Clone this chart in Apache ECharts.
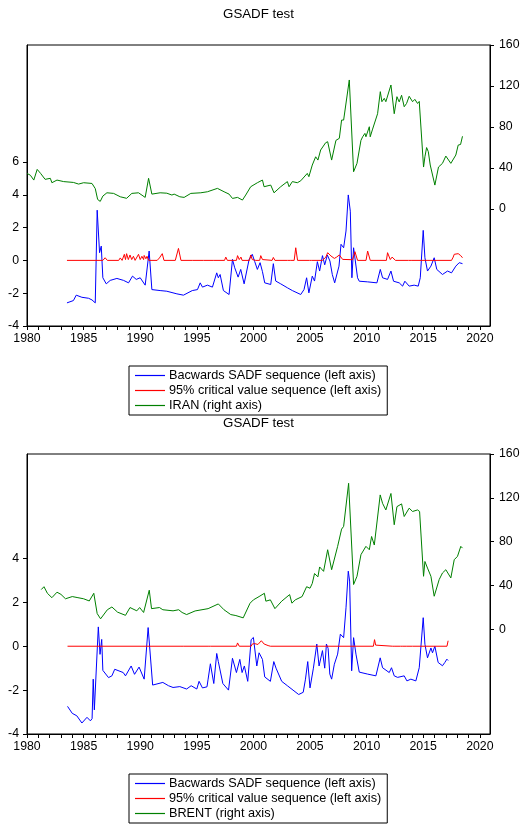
<!DOCTYPE html>
<html>
<head>
<meta charset="utf-8">
<script src="https://cdn.jsdelivr.net/npm/echarts@6/dist/echarts.min.js"></script>
<style>
html,body{margin:0;padding:0;background:#fff;}
#chart{width:526px;height:824px;}
</style>
</head>
<body>
<div id="chart"></div>
<script>
// ---------- DATA ----------
const chartTitle = 'GSADF test';
const seriesNames = ['Bacwards SADF sequence (left axis)', '95% critical value sequence (left axis)'];
const priceName1 = 'IRAN (right axis)';
const priceName2 = 'BRENT (right axis)';

const yearTicks = [1980,1985,1990,1995,2000,2005,2010,2015,2020];
const leftTicks1 = [-4,-2,0,2,4,6];
const leftTicks2 = [-4,-2,0,2,4];
const rightTicks = [0,40,80,120,160];

// Chart 1: IRAN price (right axis)
const iranT = [1980.0,1980.3,1980.6,1980.9,1981.2,1981.6,1982.06,1982.2,1982.65,1983.24,1984.1,1984.56,1985.0,1985.74,1986.03,1986.24,1986.47,1986.7,1987.06,1987.65,1988.24,1988.8,1989.26,1989.85,1990.44,1990.74,1991.03,1991.76,1992.35,1992.8,1993.0,1993.5,1993.88,1994.47,1995.35,1995.94,1996.82,1997.41,1997.85,1998.15,1998.6,1999.03,1999.32,1999.76,2000.35,2000.8,2000.94,2001.53,2001.82,2002.41,2003.0,2003.15,2003.44,2003.88,2004.18,2004.76,2004.9,2005.2,2005.5,2005.7,2005.94,2006.38,2006.56,2006.91,2007.29,2007.59,2007.79,2007.97,2008.47,2008.85,2009.15,2009.5,2009.65,2009.85,2009.94,2010.24,2010.32,2010.53,2010.97,2011.21,2011.35,2011.56,2011.7,2012.15,2012.44,2012.68,2012.88,2013.09,2013.32,2013.53,2013.76,2014.06,2014.26,2014.5,2014.65,2015.03,2015.15,2015.3,2015.45,2015.62,2016.03,2016.35,2016.7,2017.0,2017.44,2017.88,2018.09,2018.3,2018.47];
const iranV = [34.8,33,28.3,38.7,34.8,29,30,25.7,28.3,26.8,26,24.4,25.7,25,20,9.4,7.5,12.7,15.9,15.3,12,10.5,15.3,15.9,11.4,30,14.6,15.9,15.5,13.7,14.6,12,11.4,15.3,15.9,16.9,20.2,16.9,14.6,10.4,11.4,8.8,13.7,21.8,25.7,28.3,21.8,23.4,15.9,21.8,26.8,21.8,26.8,25.7,27.6,34.8,31.6,42.9,51,47.8,57.6,64.7,65.7,47.8,67,69,86.8,86.8,125.9,36.4,44.6,67,70.5,73.8,70.5,80.3,70.5,78,93,114.5,104.7,108,104.7,121,93,109.6,104.5,111,99.8,103,110,104.7,107,103,105,41,51,60,56,43,23.4,41,44.6,51.7,44.6,52.7,62.4,63,71];

// Chart 1: backwards SADF (left axis)
const sadf1T = [1983.53,1984.1,1984.35,1984.85,1985.44,1985.74,1986.03,1986.2,1986.32,1986.41,1986.56,1986.7,1987.0,1987.35,1987.94,1988.53,1988.97,1989.32,1989.65,1990.0,1990.44,1990.79,1991.03,1991.76,1992.35,1993.24,1993.82,1994.6,1995.06,1995.3,1995.5,1995.94,1996.38,1996.76,1996.9,1997.06,1997.35,1997.85,1998.15,1998.35,1998.65,1998.88,1999.18,1999.62,1999.9,2000.12,2000.35,2000.59,2000.8,2001.0,2001.53,2001.76,2001.97,2002.41,2003.0,2003.44,2004.18,2004.47,2004.7,2004.9,2005.2,2005.4,2005.65,2005.85,2006.1,2006.3,2006.53,2006.76,2006.97,2007.18,2007.56,2007.74,2007.97,2008.18,2008.38,2008.56,2008.7,2008.85,2009.2,2009.35,2010.09,2010.91,2011.21,2011.41,2011.85,2012.15,2012.38,2012.88,2013.18,2013.38,2013.76,2014.2,2014.56,2014.74,2015.0,2015.15,2015.38,2015.68,2015.97,2016.2,2016.7,2017.15,2017.5,2017.88,2018.18,2018.32,2018.47];
const sadf1V = [-2.59,-2.45,-2.12,-2.25,-2.31,-2.41,-2.59,3.06,3.0,0.47,0.87,-1.06,-1.43,-1.22,-1.1,-1.22,-1.37,-0.96,-1.16,-1.06,-1.51,0.57,-1.78,-1.84,-1.88,-2.04,-2.12,-1.84,-1.78,-1.37,-1.63,-1.51,-1.63,-0.76,-1.06,-0.86,-1.84,-2.08,0.06,-0.45,-1.02,-0.55,-1.43,0.06,0.37,-0.08,-0.55,-0.14,-0.69,-1.37,-1.47,-0.2,-1.26,-1.43,-1.67,-1.84,-2.08,-1.78,-1.06,-1.98,-0.96,-1.26,-0.08,-0.65,0.29,-0.27,0.33,-0.04,-0.86,-1.37,-0.35,0.98,0.77,1.79,3.99,3.0,-1.06,0.77,-1.06,-1.27,-1.31,-1.37,-0.55,-1.06,-1.16,-0.65,-1.27,-1.37,-1.57,-1.27,-1.57,-1.51,-1.57,-1.06,1.83,0.16,-0.65,-0.35,0.16,-0.55,-0.86,-0.65,-0.76,-0.35,-0.14,-0.24,-0.2];

// Chart 1: 95% critical values (left axis)
const cv1T = [1983.53,1986.7,1986.9,1987.1,1988.1,1988.24,1988.4,1988.6,1988.7,1988.8,1988.95,1989.1,1989.25,1989.4,1989.55,1989.85,1990.0,1990.15,1990.3,1990.35,1990.5,1990.6,1990.75,1991.5,1991.7,1991.8,1991.95,1992.1,1993.1,1993.38,1993.6,1994.4,1994.5,1994.6,1995.6,1995.65,1995.75,1996.45,1996.53,1996.62,1997.45,1997.56,1997.7,1998.5,1998.6,1998.75,1998.9,1999.0,1999.65,1999.76,1999.9,2000.06,2000.2,2000.55,2000.65,2000.8,2000.94,2001.65,2001.76,2001.9,2003.0,2003.15,2003.3,2003.6,2003.74,2003.9,2004.95,2005.06,2005.15,2006.1,2006.24,2006.4,2006.56,2006.85,2007.15,2007.35,2007.59,2007.88,2008.76,2008.97,2009.2,2009.95,2010.09,2010.32,2011.75,2011.85,2012.09,2012.25,2012.38,2012.55,2013.7,2013.76,2013.85,2014.0,2014.06,2014.15,2017.5,2017.65,2017.74,2017.9,2018.09,2018.3,2018.47];
const cv1V = [0,0,0.16,0,0,0.15,0,0.37,0.05,0.41,0.05,0.33,0.05,0.25,0,0.37,0.05,0.25,0.05,0.3,0.1,0.25,0,0,0.15,0.05,0.41,0,0,0.73,0,0,0.12,0,0,0.1,0,0,0.12,0,0,0.2,0,0,0.29,0.05,0.2,0,0,0.33,0.05,0.1,0,0,0.29,0.05,0,0,0.18,0,0,0.1,0,0,0.77,0,0,0.1,0,0,0.12,0.2,0.47,0.27,0.12,0.2,0.33,0.06,0.04,0.53,0,0,0.57,0,0,0.47,0.05,0.2,0.31,0,0,0.05,0,0,0.06,0,0,0.2,0.37,0.3,0.41,0.3,0.16];

// Chart 2: BRENT price (right axis)
const brentT = [1981.26,1981.5,1981.8,1982.2,1982.65,1983.0,1983.4,1984.0,1984.5,1985.0,1985.5,1985.9,1986.2,1986.5,1987.1,1987.5,1988.0,1988.7,1989.1,1989.7,1989.95,1990.3,1990.8,1991.0,1991.7,1992.0,1992.9,1993.4,1993.7,1994.1,1994.85,1996.0,1996.9,1997.4,1998.0,1998.45,1999.1,1999.7,2000.0,2000.5,2000.97,2001.1,2001.5,2001.9,2002.5,2003.2,2003.4,2003.7,2004.3,2004.7,2005.0,2005.2,2005.4,2005.7,2005.85,2006.2,2006.56,2006.91,2007.44,2007.79,2007.97,2008.41,2008.85,2009.15,2009.5,2009.94,2010.24,2010.44,2010.68,2011.2,2011.41,2011.7,2012.15,2012.44,2012.68,2013.09,2013.32,2013.76,2014.06,2014.5,2014.68,2015.03,2015.15,2015.38,2015.68,2015.97,2016.41,2016.7,2017.0,2017.44,2017.74,2018.03,2018.32,2018.47];
const brentV = [36.4,39,33,29,34,32,28,30,29,28,26,33,14.5,9.7,18,20.5,15.8,12.9,20,17,20,15.5,35.8,19,20,18,17,18,15.5,13.6,16.9,19,23.3,18,13.6,12.7,10.6,23.9,27,30,33,25.8,27,19,25.8,31.8,24,27,30,39,37.6,42,51,48,57,53,72.7,54.5,75.8,91.5,94,133.3,41,48.5,68.2,75.8,72.7,84.8,77,122.7,115,109,124,95.5,112,114.5,103,110.6,107.6,109,107.6,48.5,62,56,48.5,30.3,45.5,51.5,54.5,47,63.6,66.7,75.8,74.2];

// Chart 2: backwards SADF (left axis)
const sadf2T = [1983.58,1984.0,1984.4,1984.85,1985.3,1985.6,1985.75,1985.85,1985.95,1986.3,1986.45,1986.6,1986.7,1987.2,1987.5,1987.75,1988.5,1988.7,1989.2,1989.5,1989.9,1990.35,1990.7,1991.1,1992.0,1992.5,1992.9,1993.5,1994.1,1994.5,1995.0,1995.2,1995.5,1995.9,1996.0,1996.2,1996.5,1996.76,1996.9,1997.3,1997.8,1998.15,1998.5,1998.8,1999.0,1999.2,1999.5,1999.8,2000.0,2000.3,2000.5,2000.8,2001.0,2001.5,2001.8,2002.0,2002.5,2003.0,2003.5,2004.0,2004.4,2004.6,2004.8,2005.0,2005.3,2005.6,2005.8,2006.1,2006.3,2006.45,2006.6,2006.75,2006.91,2007.15,2007.44,2007.68,2007.97,2008.18,2008.38,2008.5,2008.68,2008.85,2009.06,2009.35,2010.09,2010.82,2011.2,2011.41,2012.0,2012.2,2012.44,2012.74,2013.32,2013.56,2013.91,2014.35,2014.65,2015.0,2015.15,2015.38,2015.68,2015.82,2016.03,2016.32,2016.7,2016.91,2017.09,2017.2];
const sadf2V = [-2.74,-3.06,-3.17,-3.5,-3.24,-3.4,-3.3,-1.5,-2.9,0.88,-0.37,0.31,-1.1,-1.43,-1.35,-1.05,-1.2,-1.35,-0.9,-1.28,-0.95,-1.5,0.85,-1.77,-1.65,-1.8,-1.88,-1.84,-1.95,-1.8,-1.95,-1.6,-1.9,-1.85,-1.5,-0.8,-1.7,-0.33,-0.7,-1.7,-2.0,-0.55,-1.2,-0.6,-1.2,-0.9,-1.6,0.3,0.4,-0.9,-0.3,-0.6,-1.4,-1.6,-0.7,-1.0,-1.6,-1.8,-2.0,-2.2,-2.1,-1.5,-0.7,-1.9,-1.0,0.1,-0.9,-0.2,-1.0,0.1,-0.1,-1.27,-1.5,-0.82,-0.36,0.55,0.39,1.75,3.42,2.97,-1.12,0.39,-0.36,-1.18,-1.27,-1.35,-0.53,-0.98,-1.2,-0.98,-1.35,-1.42,-1.35,-1.58,-1.5,-1.58,-0.98,1.3,0.09,-0.53,-0.08,-0.3,0.0,-0.74,-0.89,-0.74,-0.59,-0.65];

// Chart 2: 95% critical values (left axis)
const cv2T = [1983.58,1993.6,1993.7,1993.8,1996.0,1996.1,1996.2,1998.5,1998.6,1998.75,1999.8,1999.9,2000.1,2000.25,2000.4,2000.55,2000.7,2000.8,2000.95,2001.1,2001.3,2001.5,2010.6,2010.7,2010.8,2010.9,2012.3,2012.4,2012.5,2013.0,2013.1,2013.2,2013.5,2013.55,2013.65,2014.05,2014.1,2014.2,2017.1,2017.2];
const cv2V = [0,0,0.02,0,0,0.06,0,0,0.15,0,0,0.1,0.12,0.2,0.08,0.15,0.25,0.3,0.1,0.12,0.03,0,0,0.3,0.05,0,0,0.03,0,0,0.08,0,0,0.05,0,0,0.04,0,0,0.25];

// ---------- BUILD ----------
const zip = (t, v) => t.map((x, i) => [x, v[i]]);
const years = [];
for (let y = 1980; y <= 2020; y++) years.push(y);

const FONT = '"Liberation Sans", Arial, sans-serif';
const BLUE = '#0000ff', RED = '#ff0000', GREEN = '#008000';

function xAxis(gridIndex) {
  return {
    type: 'value', gridIndex, min: 1980, max: 2020.9, position: 'bottom',
    axisLine: { show: true, onZero: false, lineStyle: { color: '#000', width: 1 } },
    axisTick: { show: true, length: 4, customValues: years, lineStyle: { color: '#000' } },
    axisLabel: { customValues: yearTicks, color: '#000', fontSize: 12.3, fontFamily: FONT, margin: 7,
      formatter: v => String(Math.round(v)) },
    splitLine: { show: false }
  };
}
function yAxis(gridIndex, pos, min, max, ticks) {
  return {
    type: 'value', gridIndex, position: pos, min, max,
    axisLine: { show: true, onZero: false, lineStyle: { color: '#000', width: 1 } },
    axisTick: { show: true, length: 4, customValues: ticks, lineStyle: { color: '#000' } },
    axisLabel: { customValues: ticks, color: '#000', fontSize: 12.3, fontFamily: FONT, margin: pos === 'left' ? 8 : 9,
      formatter: v => String(v) },
    splitLine: { show: false }
  };
}
function line(name, data, xi, yi, color) {
  return {
    type: 'line', name, data, xAxisIndex: xi, yAxisIndex: yi,
    showSymbol: false, symbol: 'none', smooth: false,
    lineStyle: { color, width: 1 }, itemStyle: { color },
    emphasis: { disabled: true }, animation: false
  };
}
function legend(top, items) {
  return {
    orient: 'vertical', left: 129, top, data: items,
    itemWidth: 30, itemHeight: 1.2, itemGap: 2, icon: 'rect',
    padding: [3, 6, 3, 6], borderColor: '#000', borderWidth: 1,
    backgroundColor: '#fff',
    textStyle: { color: '#000', fontSize: 12.7, fontFamily: FONT, padding: [0, 0, 0, -1] },
    selectedMode: false
  };
}

const option = {
  animation: false,
  backgroundColor: '#fff',
  title: [
    { text: chartTitle, left: 258.5, top: 8, textAlign: 'center', padding: 0,
      textStyle: { fontSize: 13.3, fontWeight: 'normal', color: '#000', fontFamily: FONT } },
    { text: chartTitle, left: 258.5, top: 417, textAlign: 'center', padding: 0,
      textStyle: { fontSize: 13.3, fontWeight: 'normal', color: '#000', fontFamily: FONT } }
  ],
  grid: [
    { left: 27, top: 45, width: 463, height: 281, show: true, borderColor: '#000', borderWidth: 1, containLabel: false },
    { left: 27, top: 454, width: 463, height: 280, show: true, borderColor: '#000', borderWidth: 1, containLabel: false }
  ],
  legend: [
    legend(366, [seriesNames[0], seriesNames[1], priceName1]),
    legend(774, [seriesNames[0], seriesNames[1], priceName2])
  ],
  xAxis: [xAxis(0), xAxis(1)],
  yAxis: [
    yAxis(0, 'left', -4, 13.13, leftTicks1),
    yAxis(0, 'right', -114, 160, rightTicks),
    yAxis(1, 'left', -4, 8.76, leftTicks2),
    yAxis(1, 'right', -95.3, 160, rightTicks)
  ],
  series: [
    line(seriesNames[0], zip(sadf1T, sadf1V), 0, 0, BLUE),
    line(seriesNames[1], zip(cv1T, cv1V), 0, 0, RED),
    line(priceName1, zip(iranT, iranV), 0, 1, GREEN),
    line(seriesNames[0], zip(sadf2T, sadf2V), 1, 2, BLUE),
    line(seriesNames[1], zip(cv2T, cv2V), 1, 2, RED),
    line(priceName2, zip(brentT, brentV), 1, 3, GREEN)
  ]
};

const chart = echarts.init(document.getElementById('chart'), null, { renderer: 'canvas' });
chart.setOption(option);
</script>
</body>
</html>
